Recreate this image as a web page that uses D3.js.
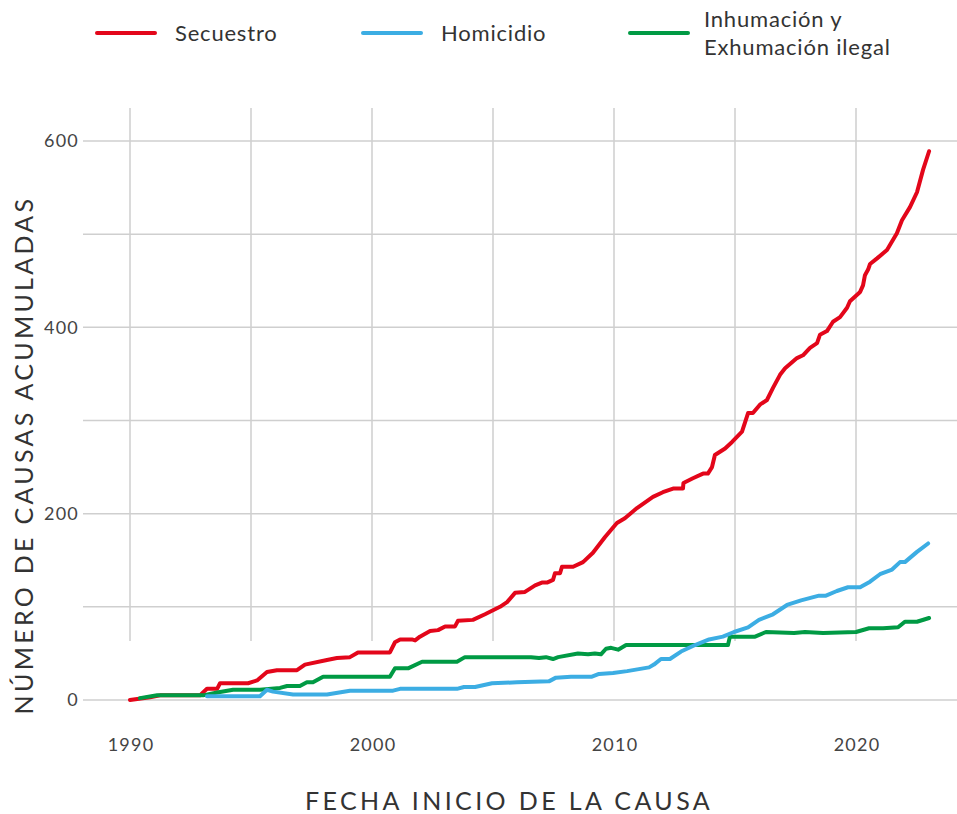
<!DOCTYPE html>
<html>
<head>
<meta charset="utf-8">
<script src="https://cdn.jsdelivr.net/npm/d3@7"></script>
<style>
  body { margin: 0; background: #fff; }
  text { font-family: Lato, "Open Sans", sans-serif; }
</style>
</head>
<body>
<svg id="chart" width="957" height="814"></svg>
<script>
// cumulative cases
const secuestroYears = [1990.0, 1990.83, 1991.24, 1992.89, 1993.18, 1993.6, 1993.72, 1994.88, 1995.25, 1995.66, 1996.07, 1996.9, 1997.23, 1998.14, 1998.55, 1999.09, 1999.42, 2000.74, 2000.95, 2001.16, 2001.65, 2001.78, 2001.98, 2002.4, 2002.73, 2003.02, 2003.43, 2003.55, 2004.17, 2004.67, 2005.29, 2005.58, 2005.91, 2006.32, 2006.74, 2007.02, 2007.23, 2007.48, 2007.56, 2007.77, 2007.85, 2008.31, 2008.72, 2009.13, 2009.63, 2010.12, 2010.45, 2010.95, 2011.61, 2012.02, 2012.44, 2012.85, 2012.87, 2013.26, 2013.68, 2013.88, 2014.05, 2014.17, 2014.59, 2014.88, 2015.29, 2015.54, 2015.74, 2016.03, 2016.32, 2016.57, 2016.86, 2017.07, 2017.56, 2017.81, 2018.1, 2018.39, 2018.51, 2018.8, 2019.05, 2019.34, 2019.63, 2019.75, 2020.17, 2020.29, 2020.37, 2020.5, 2020.58, 2020.87, 2021.28, 2021.69, 2021.9, 2022.23, 2022.52, 2022.77, 2023.02];
const secuestroValues = [0, 3, 5, 5, 12, 12, 18, 18, 21, 30, 32, 32, 38, 43, 45, 46, 51, 51, 62, 65, 65, 64, 68, 74, 75, 79, 79, 85, 86, 92, 100, 105, 115, 116, 123, 126, 126, 129, 136, 136, 143, 143, 148, 158, 175, 190, 195, 206, 218, 223, 227, 227, 233, 238, 243, 243, 250, 263, 270, 277, 288, 308, 308, 317, 322, 335, 349, 356, 367, 370, 378, 383, 392, 396, 406, 411, 421, 428, 438, 445, 456, 462, 468, 474, 483, 501, 515, 529, 545, 569, 589];

const homicidioYears = [1993.18, 1995.37, 1995.66, 1995.91, 1996.74, 1998.14, 1999.09, 2000.87, 2001.16, 2003.51, 2003.8, 2004.26, 2004.96, 2005.99, 2007.31, 2007.6, 2008.22, 2009.09, 2009.38, 2009.96, 2010.54, 2011.45, 2011.65, 2011.94, 2012.31, 2012.77, 2013.35, 2013.93, 2014.5, 2014.96, 2015.54, 2015.99, 2016.57, 2017.15, 2017.73, 2018.47, 2018.76, 2019.21, 2019.67, 2020.17, 2020.58, 2020.99, 2021.49, 2021.82, 2022.02, 2022.52, 2022.98];
const homicidioValues = [4, 4, 11, 9, 6, 6, 10, 10, 12, 12, 14, 14, 18, 19, 20, 24, 25, 25, 28, 29, 31, 35, 38, 44, 44, 52, 59, 65, 68, 73, 78, 86, 92, 102, 107, 112, 112, 117, 121, 121, 127, 135, 140, 148, 148, 159, 168];

const inhumacionYears = [1990.41, 1991.12, 1993.02, 1993.6, 1994.26, 1995.37, 1996.2, 1996.49, 1997.02, 1997.31, 1997.56, 1997.98, 1999.92, 2000.74, 2000.95, 2001.49, 2002.07, 2003.51, 2003.84, 2006.57, 2006.9, 2007.19, 2007.48, 2007.69, 2008.51, 2008.93, 2009.21, 2009.46, 2009.67, 2009.88, 2010.17, 2010.5, 2014.71, 2014.79, 2015.83, 2016.28, 2017.44, 2017.89, 2018.64, 2020.0, 2020.54, 2021.12, 2021.74, 2022.02, 2022.52, 2023.02];
const inhumacionValues = [2, 5, 5, 8, 11, 11, 13, 15, 15, 19, 19, 25, 25, 25, 34, 34, 41, 41, 46, 46, 45, 46, 44, 46, 50, 49, 50, 49, 55, 56, 54, 59, 59, 68, 68, 73, 72, 73, 72, 73, 77, 77, 78, 84, 84, 88];

const seriesNames = ['Secuestro', 'Inhumación y Exhumación ilegal', 'Homicidio'];
const seriesColors = ['#e3061a', '#009a44', '#3cade3'];

const yTicks = [0, 200, 400, 600];
const yGrid = [0, 100, 200, 300, 400, 500, 600];
const xTicks = [1990, 2000, 2010, 2020];
const xGrid = [1990, 1995, 2000, 2005, 2010, 2015, 2020];

const svg = d3.select('#chart');

const x = d3.scaleLinear().domain([1990, 2020]).range([130, 856]);
const y = d3.scaleLinear().domain([0, 600]).range([700, 141]);

// gridlines
svg.append('g')
    .selectAll('line')
    .data(xGrid)
    .enter()
    .append('line')
    .attr('x1', d => x(d)).attr('x2', d => x(d))
    .attr('y1', 108).attr('y2', 641)
    .attr('stroke', '#b5b5b5')
    .attr('stroke-width', 1);

svg.append('g')
    .selectAll('line')
    .data(yGrid)
    .enter()
    .append('line')
    .attr('x1', 83).attr('x2', 957)
    .attr('y1', d => y(d)).attr('y2', d => y(d))
    .attr('stroke', '#cfcfcf')
    .attr('stroke-width', 1.5);

// tick labels
svg.append('g')
    .selectAll('text')
    .data(yTicks)
    .enter()
    .append('text')
    .attr('x', 79)
    .attr('y', d => y(d))
    .attr('dy', '0.35em')
    .attr('text-anchor', 'end')
    .attr('fill', '#444')
    .style('font-size', '18px')
    .style('letter-spacing', '1.2px')
    .text(d => d);

svg.append('g')
    .selectAll('text')
    .data(xTicks)
    .enter()
    .append('text')
    .attr('x', d => x(d) + 1)
    .attr('y', 745)
    .attr('dy', '0.35em')
    .attr('text-anchor', 'middle')
    .attr('fill', '#444')
    .style('font-size', '18px')
    .style('letter-spacing', '1.2px')
    .text(d => d);

// axis titles
svg.append('text')
    .attr('transform', 'translate(33, 455) rotate(-90)')
    .attr('text-anchor', 'middle')
    .attr('fill', '#333')
    .style('font-size', '25px')
    .style('letter-spacing', '3.3px')
    .text('NÚMERO DE CAUSAS ACUMULADAS');

svg.append('text')
    .attr('x', 509)
    .attr('y', 810)
    .attr('text-anchor', 'middle')
    .attr('fill', '#333')
    .style('font-size', '25px')
    .style('letter-spacing', '3.4px')
    .text('FECHA INICIO DE LA CAUSA');

// lines
const series = [
    secuestroYears.map((yr, i) => [yr, secuestroValues[i]]),
    inhumacionYears.map((yr, i) => [yr, inhumacionValues[i]]),
    homicidioYears.map((yr, i) => [yr, homicidioValues[i]])
];

const line = d3.line()
    .x(d => x(d[0]))
    .y(d => y(d[1]));

svg.append('g')
    .selectAll('path')
    .data(series)
    .enter()
    .append('path')
    .attr('d', line)
    .attr('fill', 'none')
    .attr('stroke', (d, i) => seriesColors[i])
    .attr('stroke-width', 4)
    .attr('stroke-linejoin', 'round')
    .attr('stroke-linecap', 'round');

// legend
const legendItems = [
    {name: seriesNames[0], color: seriesColors[0], x: 97, lines: ['Secuestro']},
    {name: seriesNames[2], color: seriesColors[2], x: 363, lines: ['Homicidio']},
    {name: seriesNames[1], color: seriesColors[1], x: 630, lines: ['Inhumación y', 'Exhumación ilegal']}
];

const legend = svg.append('g')
    .selectAll('g')
    .data(legendItems)
    .enter()
    .append('g')
    .attr('transform', d => `translate(${d.x}, 33)`);

legend.append('line')
    .attr('x1', 0).attr('x2', 58)
    .attr('stroke', d => d.color)
    .attr('stroke-width', 4)
    .attr('stroke-linecap', 'round');

legend.append('text')
    .attr('fill', '#333')
    .style('font-size', '22px')
    .style('letter-spacing', '0.8px')
    .each(function(d) {
        const t = d3.select(this);
        const start = -(d.lines.length - 1) * 14;
        d.lines.forEach((l, i) => {
            t.append('tspan')
                .attr('x', d.lines.length > 1 ? 74 : 78)
                .attr('y', start + i * 28)
                .attr('dy', '0.35em')
                .text(l);
        });
    });
</script>
</body>
</html>
